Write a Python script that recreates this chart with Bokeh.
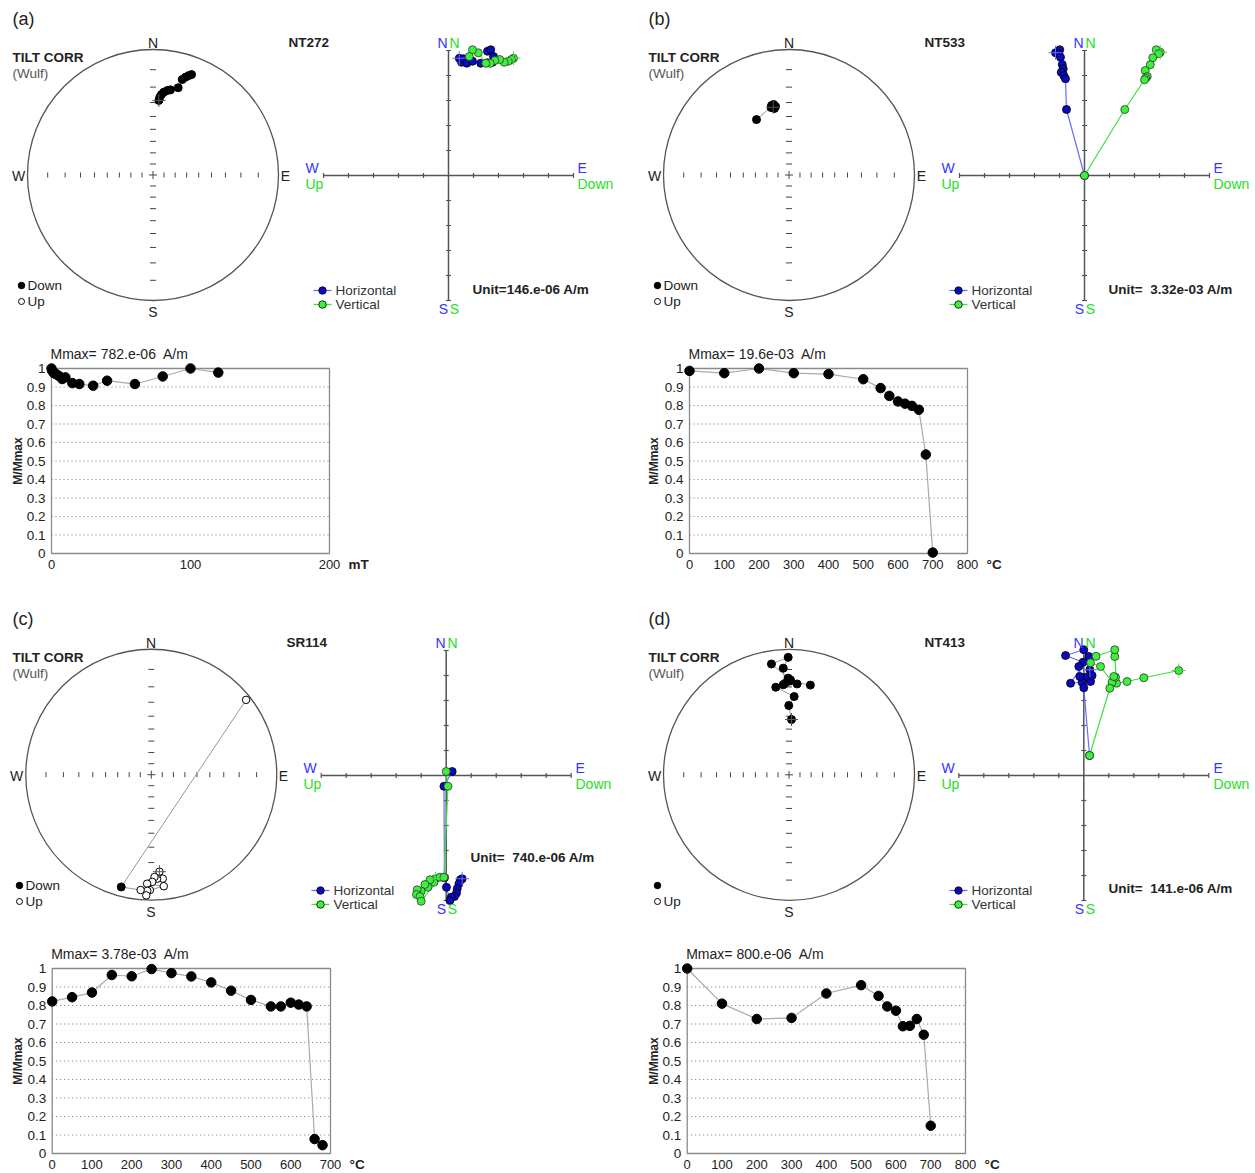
import math
from bokeh.plotting import figure
from bokeh.models import Range1d, Label
from bokeh.core.properties import value
from bokeh.embed import file_html
from bokeh.resources import INLINE

FONT = "Liberation Sans"
NB = "\u00a0"

# ---------------- data ----------------
panel_labels = ["(a)", "(b)", "(c)", "(d)"]
sample_names = ["NT272", "NT533", "SR114", "NT413"]
unit_texts = ["Unit=146.e-06 A/m", "Unit=" + NB + " 3.32e-03 A/m", "Unit=" + NB + " 740.e-06 A/m",
              "Unit=" + NB + " 141.e-06 A/m"]
mmax_texts = ["Mmax= 782.e-06" + NB + " A/m", "Mmax= 19.6e-03" + NB + " A/m", "Mmax= 3.78e-03" + NB + " A/m",
              "Mmax= 800.e-06" + NB + " A/m"]
step_units = ["mT", "°C", "°C", "°C"]
down_legend = ["Down", "Down", "Down", ""]

# stereonet directions (declination, inclination in degrees)
st_dec_a = [4.5, 5.0, 6.0, 7.4, 9.5, 11.6, 16.1, 17.0, 18.4, 19.8, 21.0]
st_inc_a = [28.4, 26.2, 24.4, 22.8, 21.4, 20.6, 18.2, 13.0, 11.2, 9.8, 8.8]
st_dec_b = [346.9, 345.9, 347.6, 347.7, 345.1, 348.9, 346.5, 329.6]
st_inc_b = [32.0, 30.6, 33.0, 30.2, 31.8, 31.8, 31.0, 35.8]
st_dec_c = [175.2, 173.7, 176.8, 178.2, 179.5, 182.2, 173.6, 180.7, 182.0, 182.4, 185.3, 195.0, 51.7]
st_inc_c = [-14.4, -10.4, -10.6, -11.6, -9.0, -8.0, -6.4, -4.8, -4.4, -2.2, -4.6, 4.4, -2.2]
st_dec_d = [2.6, 359.8, 3.8, 351.4, 359.5, 0.9, 351.0, 359.6, 356.9, 357.4, 356.3, 5.1, 0.5, 13.4]
st_inc_d = [42.4, 32.2, 26.0, 19.6, 14.8, 15.8, 6.4, 3.8, 9.2, 17.8, 18.6, 18.0, 16.5, 17.4]

# Zijderveld components (in "Unit" multiples)
zh_a_e = [0.43, 0.52, 0.59, 0.73, 0.96, 1.29, 1.56, 1.76, 1.80, 1.56, 1.69]
zh_a_n = [4.69, 4.53, 4.67, 4.49, 4.57, 4.49, 4.51, 4.53, 4.76, 4.97, 5.03]
zv_a_d = [2.60, 2.52, 2.39, 2.23, 2.05, 1.85, 1.67, 1.49, 1.19, 0.96, 0.83]
zv_a_n = [4.69, 4.64, 4.57, 4.53, 4.64, 4.60, 4.49, 4.49, 4.91, 5.03, 4.76]

zh_b_e = [-1.16, -0.99, -1.03, -0.96, -0.89, -0.85, -0.93, -0.83, -0.76, -0.72, 0.0]
zh_b_n = [4.91, 5.03, 4.87, 4.73, 4.44, 4.27, 4.13, 4.00, 3.87, 2.64, 0.0]
zv_b_d = [3.03, 2.87, 2.97, 2.73, 2.63, 2.43, 2.51, 2.45, 2.40, 1.61, 0.0]
zv_b_n = [4.93, 5.03, 4.87, 4.71, 4.43, 4.20, 3.96, 3.90, 3.83, 2.64, 0.0]

zh_c_e = [0.64, 0.57, 0.51, 0.44, 0.41, 0.33, 0.20, 0.15, 0.01, -0.07, -0.09, 0.24]
zh_c_n = [-4.13, -4.17, -4.33, -4.53, -4.71, -4.84, -4.87, -5.00, -4.47, -4.09, -0.43, 0.16]
zv_c_d = [-0.43, -0.49, -0.65, -0.73, -0.85, -1.00, -1.16, -1.19, -1.05, -1.00, -0.25, -0.09, 0.07, 0.00]
zv_c_n = [-4.13, -4.27, -4.17, -4.47, -4.36, -4.63, -4.57, -4.76, -4.84, -5.03, -4.07, -4.07, -0.43, 0.16]

zh_d_e = [0.24, 0.07, 0.27, -0.53, 0.20, 0.00, -0.73, -0.03, -0.20, -0.07, -0.16, 0.33, 0.00, 0.23]
zh_d_n = [4.23, 3.93, 3.76, 3.69, 4.76, 5.03, 4.80, 4.53, 4.36, 3.73, 3.96, 4.00, 3.51, 0.80]
zv_d_d = [3.80, 2.40, 1.73, 1.31, 1.24, 1.24, 0.49, 0.27, 0.67, 1.13, 1.27, 1.20, 1.04, 0.23]
zv_d_n = [4.20, 3.91, 3.76, 3.69, 4.76, 5.03, 4.77, 4.51, 4.36, 3.73, 3.93, 3.96, 3.49, 0.80]

# demagnetisation curves (step, M/Mmax)
dm_a_x = [0, 0.5, 1.7, 3.4, 5.3, 7.7, 10, 15, 20, 30, 40, 60, 80, 100, 120]
dm_a_y = [1.0, 0.987, 0.975, 0.969, 0.96, 0.943, 0.952, 0.921, 0.916, 0.907, 0.934, 0.916, 0.957, 1.0, 0.978]
dm_b_x = [0, 100, 200, 300, 400, 500, 550, 575, 600, 620, 640, 660, 680, 700]
dm_b_y = [0.987, 0.975, 1.0, 0.975, 0.97, 0.942, 0.894, 0.852, 0.822, 0.81, 0.798, 0.777, 0.535, 0.005]
dm_c_x = [0, 50, 100, 150, 200, 250, 300, 350, 400, 450, 500, 550, 575, 600, 620, 640, 660, 680]
dm_c_y = [0.822, 0.845, 0.87, 0.965, 0.958, 0.997, 0.975, 0.957, 0.925, 0.88, 0.83, 0.795, 0.795, 0.815, 0.805, 0.795, 0.078, 0.045]
dm_d_x = [0, 100, 200, 300, 400, 500, 550, 575, 600, 620, 640, 660, 680, 700]
dm_d_y = [1.0, 0.81, 0.727, 0.733, 0.865, 0.91, 0.852, 0.795, 0.772, 0.688, 0.69, 0.727, 0.642, 0.15]

x_ticks_list = [[0, 100, 200],
                [0, 100, 200, 300, 400, 500, 600, 700, 800],
                [0, 100, 200, 300, 400, 500, 600, 700],
                [0, 100, 200, 300, 400, 500, 600, 700, 800]]
x_max_list = [200, 800, 700, 800]
y_ticks = [0, 0.1, 0.2, 0.3, 0.4, 0.5, 0.6, 0.7, 0.8, 0.9, 1]
y_tick_labels = ["0", "0.1", "0.2", "0.3", "0.4", "0.5", "0.6", "0.7", "0.8", "0.9", "1"]
grid_levels = [0.1, 0.2, 0.3, 0.4, 0.5, 0.6, 0.7, 0.8, 0.9]
net_tick_incs = [80, 70, 60, 50, 40, 30, 20, 10]
zij_ticks = [-5, -4, -3, -2, -1, 1, 2, 3, 4, 5]

stereo_data = [(st_dec_a, st_inc_a), (st_dec_b, st_inc_b), (st_dec_c, st_inc_c), (st_dec_d, st_inc_d)]
zij_data = [(zh_a_e, zh_a_n, zv_a_d, zv_a_n), (zh_b_e, zh_b_n, zv_b_d, zv_b_n),
            (zh_c_e, zh_c_n, zv_c_d, zv_c_n), (zh_d_e, zh_d_n, zv_d_d, zv_d_n)]
demag_data = [(dm_a_x, dm_a_y), (dm_b_x, dm_b_y), (dm_c_x, dm_c_y), (dm_d_x, dm_d_y)]

# ---------------- placement / style ----------------
W, H = 1252, 1171
R = 125.5     # px per stereonet radius
ZU = 25.0     # px per Zijderveld unit
quad_off = [(0, 0), (636, 0), (0, 600), (636, 600)]
text_dx = [0, 0, -2, 0]
st_center = [(152.5, 174.5), (788.5, 174.5), (150.8, 774.2), (788.5, 774.3)]
zij_origin = [(448.0, 175.0), (1084.0, 175.0), (445.7, 775.0), (1083.3, 775.0)]
demag_box = [(51, 329, 368, 553), (689, 967, 368, 553), (51.7, 330, 968, 1153), (686.7, 965, 968, 1153)]
unit_y = [289, 289, 257, 288]

BLUE_TXT = "#3434ff"
GREEN_TXT = "#22e022"
BLUE_FILL = "#0a0abf"
GREEN_FILL = "#3cf03c"
BLUE_LINE = "#6a6aff"
GREEN_LINE = "#3ee03e"
TXT = "#222222"

p = figure(width=W, height=H, output_backend="svg", toolbar_location=None,
           x_range=Range1d(0, W), y_range=Range1d(0, H),
           x_axis_location=None, y_axis_location=None, min_border=0,
           outline_line_color=None)
p.grid.visible = False


def lab(s, x, y, size, color=TXT, bold=False, align="left", angle=0.0):
    p.add_layout(Label(x=x, y=H - y, x_units="screen", y_units="screen", text=s, angle=angle,
                       text_font=FONT, text_font_size=f"{size}px", text_color=color,
                       text_font_style="bold" if bold else "normal",
                       text_align=align, text_baseline="middle"))


def stereo_xy(decs, incs):
    xs, ys = [], []
    for d, i in zip(decs, incs):
        r = math.tan(math.radians((90 - abs(i)) / 2.0))
        xs.append(r * math.sin(math.radians(d)))
        ys.append(r * math.cos(math.radians(d)))
    return xs, ys


for k in range(4):
    qx, qy = quad_off[k]
    dx = text_dx[k]
    ox0 = qx + dx          # template x offset for texts/legends
    cx, cy = st_center[k]
    zx, zy = zij_origin[k]

    # ---------- stereonet ----------
    sxn, syn = f"sx{k}", f"sy{k}"
    p.extra_x_ranges[sxn] = Range1d(-cx / R, (W - cx) / R)
    p.extra_y_ranges[syn] = Range1d(-(H - cy) / R, cy / R)
    sr = dict(x_range_name=sxn, y_range_name=syn)
    p.circle(x=[0], y=[0], radius=1, fill_color=None, line_color="#555555", line_width=1.3, **sr)
    rt = [math.tan(math.radians((90 - i) / 2.0)) for i in net_tick_incs]
    rr = rt + [-r for r in rt]
    th, tw = 2.5 / R, 3.0 / R
    n = len(rr)
    p.segment(x0=rr, y0=[-th] * n, x1=rr, y1=[th] * n, line_color="#444444", line_width=1, **sr)
    p.segment(x0=[-tw] * n, y0=rr, x1=[tw] * n, y1=rr, line_color="#444444", line_width=1, **sr)
    p.segment(x0=[-4 / R, 0], y0=[0, -4 / R], x1=[4 / R, 0], y1=[0, 4 / R], line_color="#444444", line_width=1, **sr)

    decs, incs = stereo_data[k]
    sx, sy = stereo_xy(decs, incs)
    p.line(sx, sy, line_color="#9a9a9a", line_width=1, **sr)
    dn = [j for j, i in enumerate(incs) if i >= 0]
    up = [j for j, i in enumerate(incs) if i < 0]
    p.scatter([sx[j] for j in dn], [sy[j] for j in dn], size=8, fill_color="black", line_color="black", **sr)
    p.scatter([sx[j] for j in up], [sy[j] for j in up], size=7.5, fill_color="white", line_color="black",
              line_width=1, **sr)
    p.scatter([sx[0]], [sy[0]], marker="cross", size=13, line_color="#555555", line_width=1, **sr)
    # legend symbols
    p.scatter([(21 + ox0 - cx) / R], [(cy - (285 + qy)) / R], size=6.5, fill_color="black", line_color="black", **sr)
    p.scatter([(21 + ox0 - cx) / R], [(cy - (301 + qy)) / R], size=6, fill_color="white", line_color="black", **sr)

    # ---------- Zijderveld ----------
    zxn, zyn = f"zx{k}", f"zy{k}"
    p.extra_x_ranges[zxn] = Range1d(-zx / ZU, (W - zx) / ZU)
    p.extra_y_ranges[zyn] = Range1d(-(H - zy) / ZU, zy / ZU)
    zr = dict(x_range_name=zxn, y_range_name=zyn)
    p.segment(x0=[-5, 0], y0=[0, -5], x1=[5, 0], y1=[0, 5], line_color="#555555", line_width=1.5, **zr)
    nt = len(zij_ticks)
    p.segment(x0=zij_ticks, y0=[-0.1] * nt, x1=zij_ticks, y1=[0.1] * nt, line_color="#555555", line_width=1.2, **zr)
    p.segment(x0=[-0.1] * nt, y0=zij_ticks, x1=[0.1] * nt, y1=zij_ticks, line_color="#555555", line_width=1.2, **zr)

    he, hn, vd, vn = zij_data[k]
    p.line(he, hn, line_color=BLUE_LINE, line_width=1.2, **zr)
    p.scatter(he, hn, size=8, fill_color=BLUE_FILL, line_color="black", line_width=0.8, **zr)
    p.scatter([he[0]], [hn[0]], marker="cross", size=14, line_color=BLUE_LINE, line_width=1, **zr)
    p.line(vd, vn, line_color=GREEN_LINE, line_width=1.2, **zr)
    p.scatter(vd, vn, size=8, fill_color=GREEN_FILL, line_color="#333333", line_width=0.8, **zr)
    p.scatter([vd[0]], [vn[0]], marker="cross", size=14, line_color=GREEN_LINE, line_width=1, **zr)
    for yy, lc, fc in ((290, BLUE_LINE, BLUE_FILL), (304, GREEN_LINE, GREEN_FILL)):
        ly = (zy - (yy + qy)) / ZU
        p.segment(x0=[(313 + ox0 - zx) / ZU], y0=[ly], x1=[(331 + ox0 - zx) / ZU], y1=[ly],
                  line_color=lc, line_width=1.3, **zr)
        p.scatter([(322 + ox0 - zx) / ZU], [ly], size=7.5, fill_color=fc, line_color="black", line_width=0.8, **zr)

    # ---------- demagnetisation curve ----------
    bl, br, bt, bb = demag_box[k]
    xmax = x_max_list[k]
    spx = (br - bl) / xmax
    spy = float(bb - bt)
    dxn, dyn = f"dx{k}", f"dy{k}"
    p.extra_x_ranges[dxn] = Range1d(-bl / spx, (W - bl) / spx)
    p.extra_y_ranges[dyn] = Range1d(-(H - bb) / spy, bb / spy)
    dr = dict(x_range_name=dxn, y_range_name=dyn)
    ng = len(grid_levels)
    p.segment(x0=[0] * ng, y0=grid_levels, x1=[xmax] * ng, y1=grid_levels,
              line_color="#777777", line_dash="1 3", line_width=1, **dr)
    p.quad(left=[0], right=[xmax], bottom=[0], top=[1], fill_color=None, line_color="#8a8a8a", line_width=1.3, **dr)
    xs, ys = demag_data[k]
    p.line(xs, ys, line_color="#aaaaaa", line_width=1.2, **dr)
    p.scatter(xs, ys, size=9.5, fill_color="black", line_color="black", **dr)
    xt = x_ticks_list[k]
    p.text(x=xt, y=[-10.5 / spy] * len(xt), text=[str(t) for t in xt], text_align="center",
           text_baseline="middle", text_font=value(FONT), text_font_size="13px", text_color=TXT, **dr)
    p.text(x=[-6 / spx] * len(y_ticks), y=y_ticks, text=y_tick_labels, text_align="right",
           text_baseline="middle", text_font=value(FONT), text_font_size="13.5px", text_color=TXT, **dr)

    # ---------- texts ----------
    lab(panel_labels[k], 12 + qx, 18 + qy, 18)
    lab("N", 152.5 + ox0, 42 + qy, 14, align="center")
    lab("S", 152.5 + ox0, 311 + qy, 14, align="center")
    lab("W", 18 + ox0, 175 + qy, 14, align="center")
    lab("E", 285 + ox0, 175 + qy, 14, align="center")
    lab("TILT CORR", 12 + qx, 57 + qy, 13.5, bold=True)
    lab("(Wulf)", 12 + qx, 73 + qy, 13.5, color="#555555")
    lab(sample_names[k], 288 + ox0, 42 + qy, 13.5, bold=True)
    if down_legend[k]:
        lab(down_legend[k], 27 + ox0, 285 + qy, 13.5)
    lab("Up", 27 + ox0, 301 + qy, 13.5)

    lab("N", 442 + ox0, 42 + qy, 14, color=BLUE_TXT, align="center")
    lab("N", 454 + ox0, 42 + qy, 14, color=GREEN_TXT, align="center")
    lab("S", 443 + ox0, 308 + qy, 14, color=BLUE_TXT, align="center")
    lab("S", 454 + ox0, 308 + qy, 14, color=GREEN_TXT, align="center")
    lab("W", 305 + ox0, 167 + qy, 14, color=BLUE_TXT)
    lab("Up", 305 + ox0, 183 + qy, 14, color=GREEN_TXT)
    lab("E", 577 + ox0, 167 + qy, 14, color=BLUE_TXT)
    lab("Down", 577 + ox0, 183 + qy, 14, color=GREEN_TXT)
    lab("Horizontal", 335 + ox0, 290 + qy, 13.5, color="#333333")
    lab("Vertical", 335 + ox0, 304 + qy, 13.5, color="#333333")
    lab(unit_texts[k], 472 + ox0, unit_y[k] + qy, 13.5, bold=True)

    lab(mmax_texts[k], bl - 1, bt - 15, 14)
    lab(step_units[k], br + 19, bb + 10.5, 13.5, bold=True)
    lab("M/Mmax", 17 + qx, (bt + bb) / 2, 12, bold=True, align="center", angle=math.pi / 2)

open("out.html", "w").write(file_html(p, INLINE, title="Paleomagnetic demagnetisation"))
